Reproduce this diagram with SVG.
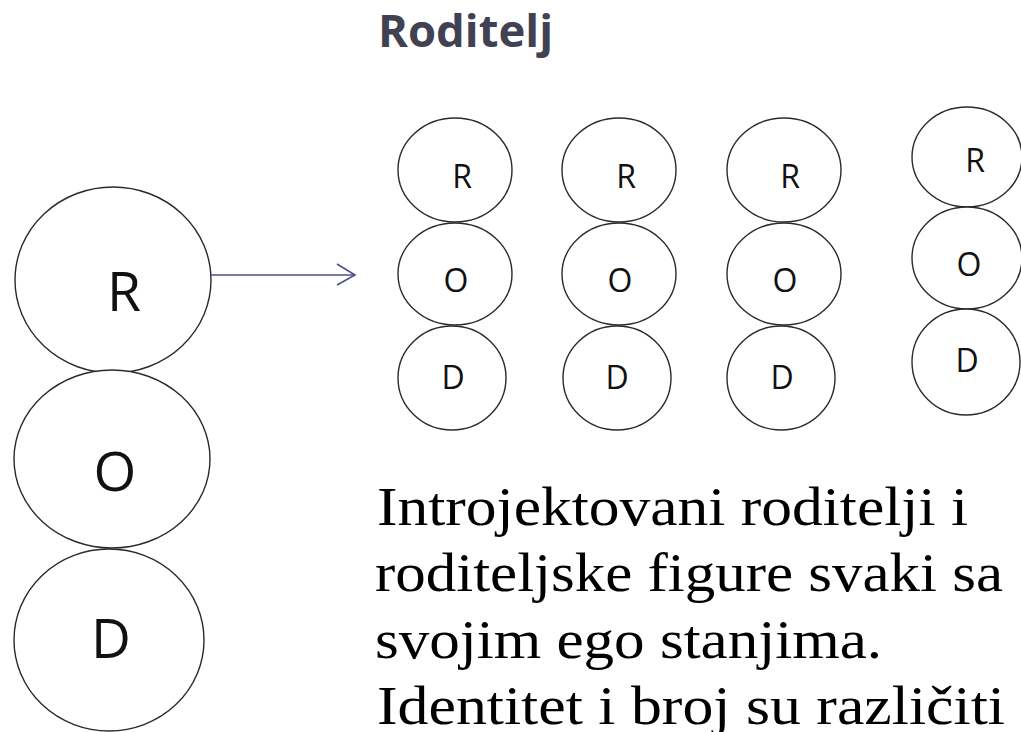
<svg xmlns="http://www.w3.org/2000/svg" width="1021" height="732" viewBox="0 0 1021 732">
<defs>
<style>
.c{fill:#fff;stroke:#2a2a2a;stroke-width:1.4}
.lb{font-family:"Open Sans","Liberation Sans",sans-serif;fill:#111;text-anchor:middle}
.big{font-size:55px}
.sm{font-size:32px}
.body{font-family:"Liberation Serif","DejaVu Serif",serif;font-size:55px;fill:#000}
.title{font-family:"Open Sans","DejaVu Sans",sans-serif;font-weight:bold;font-size:44px;fill:#404253}
.conn{stroke:#4b4f8e;stroke-width:1.6;fill:none}
</style>
</defs>
<rect width="1021" height="732" fill="#fff"/>
<text class="title" x="378" y="47" textLength="175" lengthAdjust="spacingAndGlyphs">Roditelj</text>

<g id="big-R"><ellipse class="c" cx="113" cy="280" rx="98" ry="93"/><text class="lb big" x="124" y="311">R</text></g>
<g id="big-O"><ellipse class="c" cx="112" cy="459" rx="98" ry="89"/><text class="lb big" x="115" y="491">O</text></g>
<g id="big-D"><ellipse class="c" cx="109" cy="640" rx="95" ry="91"/><text class="lb big" x="111" y="658">D</text></g>

<g id="col1">
<g id="c1-R"><ellipse class="c" cx="455" cy="170" rx="57" ry="52"/><text class="lb sm" x="462" y="188">R</text></g>
<g id="c1-O"><ellipse class="c" cx="455" cy="274" rx="57" ry="51"/><text class="lb sm" x="456" y="292">O</text></g>
<g id="c1-D"><ellipse class="c" cx="452" cy="378" rx="54" ry="52"/><text class="lb sm" x="453" y="389">D</text></g>
</g>
<g id="col2">
<g id="c2-R"><ellipse class="c" cx="619" cy="170" rx="57" ry="52"/><text class="lb sm" x="626" y="188">R</text></g>
<g id="c2-O"><ellipse class="c" cx="619" cy="274" rx="57" ry="51"/><text class="lb sm" x="620" y="292">O</text></g>
<g id="c2-D"><ellipse class="c" cx="617" cy="378" rx="54" ry="52"/><text class="lb sm" x="617" y="389">D</text></g>
</g>
<g id="col3">
<g id="c3-R"><ellipse class="c" cx="784" cy="170" rx="57" ry="52"/><text class="lb sm" x="790" y="188">R</text></g>
<g id="c3-O"><ellipse class="c" cx="784" cy="274" rx="57" ry="51"/><text class="lb sm" x="785" y="292">O</text></g>
<g id="c3-D"><ellipse class="c" cx="781" cy="378" rx="54" ry="52"/><text class="lb sm" x="782" y="389">D</text></g>
</g>
<g id="col4">
<g id="c4-R"><ellipse class="c" cx="967" cy="157" rx="55" ry="50"/><text class="lb sm" x="975" y="172">R</text></g>
<g id="c4-O"><ellipse class="c" cx="967" cy="258" rx="55" ry="51"/><text class="lb sm" x="969" y="276">O</text></g>
<g id="c4-D"><ellipse class="c" cx="966" cy="362" rx="54" ry="53"/><text class="lb sm" x="967" y="372">D</text></g>
</g>

<g id="connectors">
<line class="conn" x1="211" y1="275" x2="354" y2="275"/>
<polyline class="conn" points="337,264 355,275 337,285"/>
</g>

<g id="caption">
<text class="body" x="377" y="525" textLength="591" lengthAdjust="spacingAndGlyphs">Introjektovani roditelji i</text>
<text class="body" x="375" y="591" textLength="628" lengthAdjust="spacingAndGlyphs">roditeljske figure svaki sa</text>
<text class="body" x="375" y="658" textLength="507" lengthAdjust="spacingAndGlyphs">svojim ego stanjima.</text>
<text class="body" x="377" y="724" textLength="628" lengthAdjust="spacingAndGlyphs">Identitet i broj su različiti</text>
</g>
</svg>
